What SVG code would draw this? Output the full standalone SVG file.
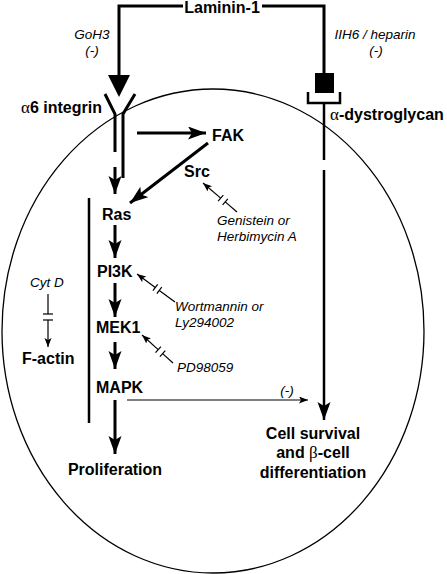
<svg xmlns="http://www.w3.org/2000/svg" width="447" height="574" viewBox="0 0 447 574">
<style>
.b{font-family:"Liberation Sans",Arial,sans-serif;font-weight:bold;font-size:16px;fill:#000}
.i{font-family:"Liberation Sans",Arial,sans-serif;font-style:italic;font-size:13.5px;fill:#000}
.g{font-family:"Liberation Serif","Times New Roman",serif;font-weight:normal;font-size:17px}
.thick{stroke:#000;stroke-width:3;fill:none}
.med{stroke:#000;stroke-width:2.5;fill:none}
.thin{stroke:#000;stroke-width:1.2;fill:none}
</style>
<defs>
<marker id="big" markerUnits="userSpaceOnUse" markerWidth="20" markerHeight="14" refX="18" refY="6.5" orient="auto" viewBox="0 0 20 14">
<path d="M0,0 L18,6.5 L0,13 L4,6.5 z" fill="#000"/>
</marker>
<marker id="sm" markerUnits="userSpaceOnUse" markerWidth="10" markerHeight="8" refX="9" refY="3.5" orient="auto" viewBox="0 0 10 8">
<path d="M0,0 L9,3.5 L0,7 L2,3.5 z" fill="#000"/>
</marker>
</defs>
<rect width="447" height="574" fill="#fff"/>
<ellipse id="cell" cx="213" cy="331" rx="211" ry="242" fill="none" stroke="#000" stroke-width="1.3"/>

<g id="laminin"><text class="b" x="222" y="13" text-anchor="middle" font-size="15.5">Laminin-1</text></g>
<g id="goh3"><text class="i" x="92" y="39" text-anchor="middle">GoH3</text><text class="i" x="92" y="55" text-anchor="middle">(-)</text></g>
<g id="iih6"><text class="i" x="375" y="39" text-anchor="middle">IIH6 / heparin</text><text class="i" x="376" y="55" text-anchor="middle">(-)</text></g>
<g id="integrin">
<polyline class="thick" points="105,94 115,114 115,152"/>
<polyline class="thick" points="135,94 123,114 123,178"/>
<text class="b" x="21" y="113"><tspan class="g">α</tspan>6 integrin</text>
</g>
<g id="dystroglycan">
<rect x="315" y="73" width="19" height="20" fill="#000"/>
<polyline class="med" points="308,92 308,103 340,103 340,92"/>
<text class="b" x="330" y="120" font-size="15"><tspan class="g">α</tspan>-dystroglycan</text>
</g>
<g id="fak"><text class="b" x="212" y="141" font-size="15.5">FAK</text></g>
<g id="src"><text class="b" x="184" y="177">Src</text></g>
<g id="genistein"><text class="i" x="217" y="225">Genistein or</text><text class="i" x="217" y="241">Herbimycin A</text></g>
<g id="ras"><text class="b" x="102" y="220">Ras</text></g>
<g id="pi3k"><text class="b" x="97" y="277">PI3K</text></g>
<g id="wortmannin"><text class="i" x="175" y="311">Wortmannin or</text><text class="i" x="175" y="327">Ly294002</text></g>
<g id="mek1"><text class="b" x="96" y="333">MEK1</text></g>
<g id="pd98059"><text class="i" x="177" y="372">PD98059</text></g>
<g id="mapk"><text class="b" x="96" y="393">MAPK</text></g>
<g id="cytd"><text class="i" x="30" y="287">Cyt D</text></g>
<g id="factin"><text class="b" x="22" y="364">F-actin</text></g>
<g id="proliferation"><text class="b" x="115" y="475" text-anchor="middle">Proliferation</text></g>
<g id="survival">
<text class="b" x="313" y="439" text-anchor="middle">Cell survival</text>
<text class="b" x="313" y="458" text-anchor="middle">and <tspan class="g">β</tspan>-cell</text>
<text class="b" x="313" y="478" text-anchor="middle">differentiation</text>
</g>

<g id="connectors">
<polyline class="thick" points="183,6 119,6 119,76"/>
<polygon points="108,75 130,75 119,97" fill="#000"/>
<polyline class="thick" points="262,6 324,6 324,73"/>
<line class="med" x1="324" y1="103" x2="324" y2="160"/>
<line class="med" x1="324" y1="170" x2="324" y2="420" marker-end="url(#big)"/>
<line class="thick" x1="137" y1="133" x2="206" y2="133" marker-end="url(#big)"/>
<line class="thick" x1="208" y1="143" x2="130" y2="203" marker-end="url(#big)"/>
<line class="thick" x1="115" y1="167" x2="115" y2="194" marker-end="url(#big)"/>
<line class="thick" x1="115" y1="225" x2="115" y2="258" marker-end="url(#big)"/>
<line class="thick" x1="115" y1="283" x2="115" y2="317" marker-end="url(#big)"/>
<line class="thick" x1="115" y1="342" x2="115" y2="369" marker-end="url(#big)"/>
<line class="thick" x1="115" y1="400" x2="115" y2="454" marker-end="url(#big)"/>
<line class="med" x1="89" y1="198" x2="89" y2="423"/>
<line class="thin" x1="127" y1="400" x2="308" y2="400" marker-end="url(#sm)"/>
<text class="i" x="287" y="395" text-anchor="middle">(-)</text>
<line class="thin" x1="237" y1="212" x2="225.2" y2="201.9"/>
<line class="thin" x1="220.7" y1="198.1" x2="203" y2="183" marker-end="url(#sm)"/>
<line class="thin" x1="222.6" y1="204.9" x2="227.8" y2="198.9"/>
<line class="thin" x1="218.1" y1="201.1" x2="223.3" y2="195.1"/>
<line class="thin" x1="175" y1="302" x2="159.3" y2="290.4"/>
<line class="thin" x1="155.3" y1="287.5" x2="137" y2="274" marker-end="url(#sm)"/>
<line class="thin" x1="156.9" y1="293.6" x2="161.7" y2="287.2"/>
<line class="thin" x1="152.9" y1="290.7" x2="157.7" y2="284.3"/>
<line class="thin" x1="173" y1="363" x2="162.6" y2="353.6"/>
<line class="thin" x1="158.2" y1="349.6" x2="142" y2="335" marker-end="url(#sm)"/>
<line class="thin" x1="159.9" y1="356.6" x2="165.3" y2="350.6"/>
<line class="thin" x1="155.5" y1="352.6" x2="160.9" y2="346.6"/>
<line class="thin" x1="48" y1="294" x2="48" y2="314"/>
<line class="thin" x1="43" y1="314" x2="53" y2="314"/>
<line class="thin" x1="43" y1="320" x2="53" y2="320"/>
<line class="thin" x1="48" y1="320" x2="48" y2="347" marker-end="url(#sm)"/>
</g>
</svg>
